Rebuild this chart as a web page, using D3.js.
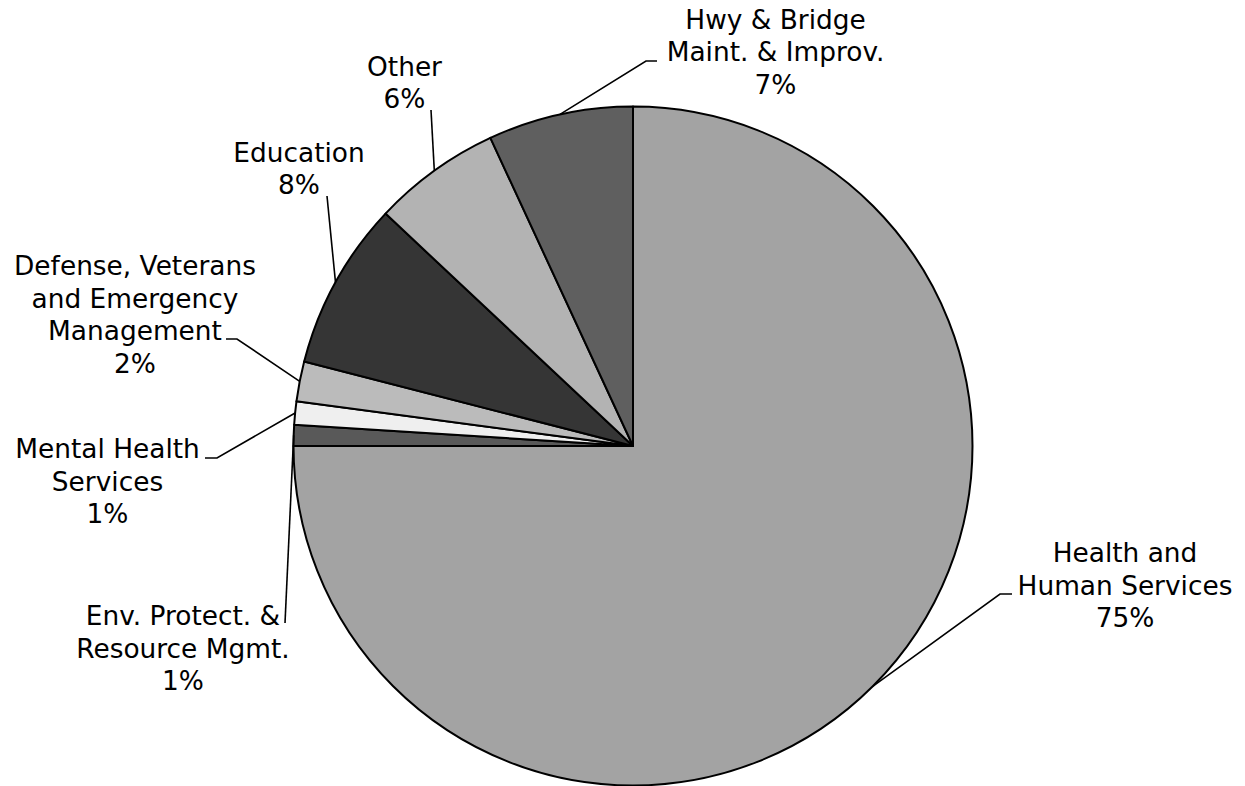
<!DOCTYPE html>
<html>
<head>
<meta charset="utf-8">
<script src="https://cdn.jsdelivr.net/npm/d3@7"></script>
<style>
  html, body { margin: 0; padding: 0; background: #fff; }
  svg { display: block; }
  text { font-family: "DejaVu Sans", Verdana, sans-serif; font-size: 26.4px; fill: #000; }
</style>
</head>
<body>
<svg id="chart" width="1245" height="786"></svg>
<script>
// Budget shares by program area (percent of total), clockwise from 12 o'clock
const categories = [
  "Health and\nHuman Services",
  "Env. Protect. &\nResource Mgmt.",
  "Mental Health\nServices",
  "Defense, Veterans\nand Emergency\nManagement",
  "Education",
  "Other",
  "Hwy & Bridge\nMaint. & Improv."
];
const shares = [75.0, 1.0, 1.1, 1.9, 8.0, 6.1, 6.9];
const sliceColors = ["#a3a3a3", "#595959", "#efefef", "#bbbbbb", "#353535", "#b3b3b3", "#5f5f5f"];

// Label placement: centre x, first baseline, and the leader's elbow / label-side end
const labelLayout = [
  { x: 1125,  y: 562,   elbow: [1000, 594], end: [1012, 594] },
  { x: 183,   y: 625,   elbow: [285, 623],  end: [285, 623] },
  { x: 107.5, y: 458,   elbow: [217, 458],  end: [205, 458] },
  { x: 135,   y: 275,   elbow: [237, 339],  end: [226, 339] },
  { x: 299,   y: 161.5, elbow: [327, 196],  end: [327, 196] },
  { x: 404.5, y: 75.5,  elbow: [431, 110],  end: [431, 110] },
  { x: 775.5, y: 28.5,  elbow: [646, 61],   end: [657, 61] }
];

const cx = 633, cy = 446, radius = 339.5, lineHeight = 32.5;

const data = categories.map((c, i) => ({ name: c, value: shares[i], color: sliceColors[i], layout: labelLayout[i] }));
const total = d3.sum(shares);
const pct = d3.format(".0%");

const svg = d3.select("#chart");
const g = svg.append("g").attr("transform", `translate(${cx},${cy})`);

const pie = d3.pie().sort(null).value(d => d.value);
const arcs = pie(data);
const arc = d3.arc().innerRadius(0).outerRadius(radius);

g.selectAll("path.slice")
  .data(arcs)
  .join("path")
  .attr("class", "slice")
  .attr("d", arc)
  .attr("fill", d => d.data.color)
  .attr("stroke", "#000")
  .attr("stroke-width", 2)
  .attr("stroke-linejoin", "round");

// Leader lines from each slice's arc midpoint to its label
const leader = d3.line();
svg.selectAll("path.leader")
  .data(arcs)
  .join("path")
  .attr("class", "leader")
  .attr("fill", "none")
  .attr("stroke", "#000")
  .attr("stroke-width", 1.6)
  .attr("d", d => {
    const a = (d.startAngle + d.endAngle) / 2;
    const p = [cx + radius * Math.sin(a), cy - radius * Math.cos(a)];
    return leader([p, d.data.layout.elbow, d.data.layout.end]);
  });

// Multi-line category labels with percentage
const labels = svg.selectAll("text.label")
  .data(arcs)
  .join("text")
  .attr("class", "label")
  .attr("text-anchor", "middle");

labels.each(function(d) {
  const lines = d.data.name.split("\n").concat(pct(d.data.value / total));
  d3.select(this).selectAll("tspan")
    .data(lines)
    .join("tspan")
    .attr("x", d.data.layout.x)
    .attr("y", (t, i) => d.data.layout.y + i * lineHeight)
    .text(t => t);
});
</script>
</body>
</html>
